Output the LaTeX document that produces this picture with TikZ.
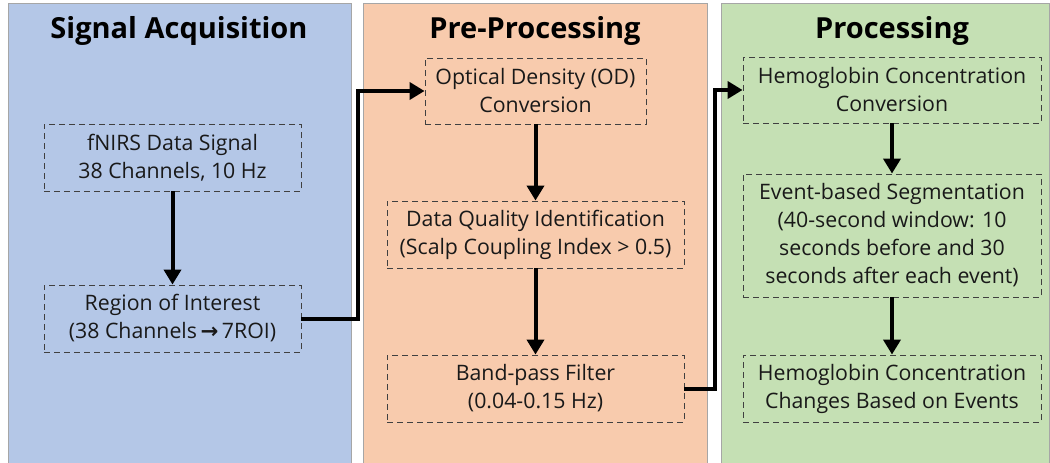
\documentclass[tikz,border=0pt]{standalone}
\usepackage{fontspec}
\setmainfont{Open Sans}
\newfontfamily\symfont{DejaVu Sans}
\usetikzlibrary{arrows.meta}
\definecolor{pblue}{HTML}{B4C7E7}
\definecolor{porange}{HTML}{F8CBAD}
\definecolor{pgreen}{HTML}{C5E0B4}
\definecolor{pborder}{HTML}{A6A6A6}
\definecolor{dashc}{HTML}{404040}
\begin{document}
\begin{tikzpicture}[x=1pt,y=-1pt,
  panel/.style={draw=pborder,line width=0.8pt},
  title/.style={font=\fontsize{29}{32}\selectfont\bfseries,anchor=base},
  stepbox/.style={draw=dashc,dashed,dash pattern=on 6pt off 4pt,line width=0.9pt,
    align=center,font=\fontsize{21.3}{28}\selectfont,inner sep=0pt,text=black!90},
  arr/.style={line width=4pt,-{Triangle[length=15pt,width=17pt]}},
  conn/.style={line width=4pt,-{Triangle[length=15pt,width=17pt]}}]
\useasboundingbox (0,0) rectangle (1050,463);
\fill[white] (0,0) rectangle (1050,463);
% panels
\draw[panel,fill=pblue] (8,3) rectangle (351,463);
\draw[panel,fill=porange] (363,3) rectangle (707,463);
\draw[panel,fill=pgreen] (721,3) rectangle (1049,463);
% titles
\node[title] (t1) at (179,38) {Signal Acquisition};
\node[title] (t2) at (535,38) {Pre-Processing};
\node[title] (t3) at (892,38) {Processing};
% boxes
\node[stepbox,minimum width=257pt,minimum height=67pt] (fn) at (172.5,157.5) {fNIRS Data Signal\\38 Channels, 10 Hz};
\node[stepbox,minimum width=257pt,minimum height=67pt] (roi) at (172.5,318.5) {Region of Interest\\(38 Channels{\symfont\bfseries\,→\,}7ROI)};
\node[stepbox,minimum width=221pt,minimum height=66pt] (od) at (535.5,91) {Optical Density (OD)\\Conversion};
\node[stepbox,minimum width=297pt,minimum height=67pt] (dq) at (535.5,234.5) {Data Quality Identification\\(Scalp Coupling Index > 0.5)};
\node[stepbox,minimum width=297pt,minimum height=67pt] (bp) at (535.5,388.5) {Band-pass Filter\\(0.04-0.15 Hz)};
\node[stepbox,minimum width=298pt,minimum height=66pt] (hc) at (892,90) {Hemoglobin Concentration\\Conversion};
\node[stepbox,minimum width=298pt,minimum height=123pt] (eb) at (892,235.5) {Event-based Segmentation\\(40-second window: 10\\seconds before and 30\\seconds after each event)};
\node[stepbox,minimum width=298pt,minimum height=67pt] (he) at (892,388.5) {Hemoglobin Concentration\\Changes Based on Events};
% arrows
\draw[arr] (fn.south) -- (roi.north);
\draw[arr] (od.south) -- (dq.north);
\draw[arr] (dq.south) -- (bp.north);
\draw[arr] (hc.south) -- (eb.north);
\draw[arr] (eb.south) -- (he.north);
% connectors
\coordinate (c1) at (358,90);
\coordinate (c2) at (715,90);
\draw[conn] (roi.east) -- (roi.east -| c1) |- (od.west);
\draw[conn] (bp.east) -- (bp.east -| c2) |- (hc.west);
\end{tikzpicture}
\end{document}
